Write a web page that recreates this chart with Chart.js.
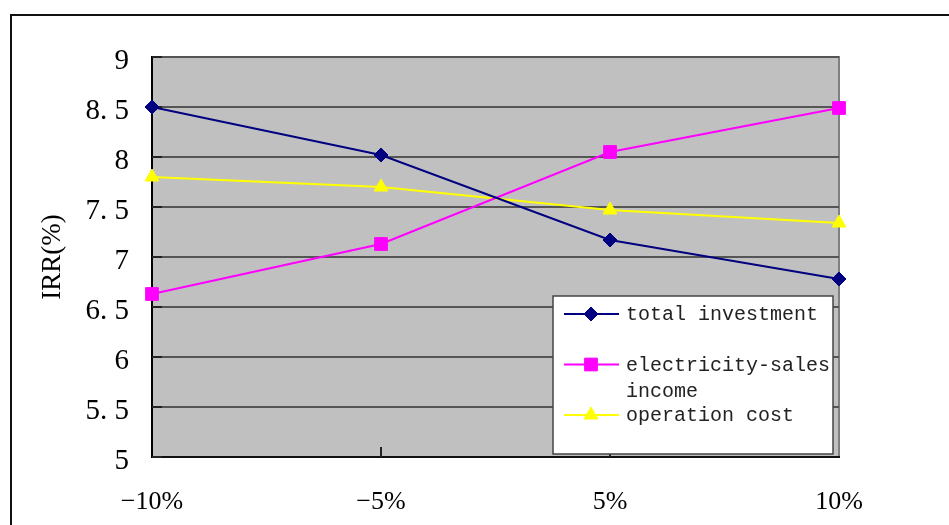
<!DOCTYPE html>
<html>
<head>
<meta charset="utf-8">
<script src="https://cdn.jsdelivr.net/npm/chart.js@4.4.1/dist/chart.umd.min.js"></script>
<style>
  html, body { margin: 0; padding: 0; background: #fff; }
  #wrap { position: relative; width: 949px; height: 525px; }
</style>
</head>
<body>
<div id="wrap"><canvas id="irr-chart" width="949" height="525"></canvas></div>
<script>
const categories = ['−10%', '−5%', '5%', '10%'];
const totalInvestment = [8.5, 8.02, 7.17, 6.78];
const salesIncome = [6.63, 7.13, 8.05, 8.49];
const operationCost = [7.8, 7.7, 7.47, 7.34];
const seriesNames = ['total investment', 'electricity-sales income', 'operation cost'];
const yTickLabels = ['5', '5. 5', '6', '6. 5', '7', '7. 5', '8', '8. 5', '9'];

const serif = '"Liberation Serif", "DejaVu Serif", serif';
const mono = '"Liberation Mono", "DejaVu Sans Mono", monospace';

function series(label, data, color, pointStyle, radius) {
  return {
    label,
    data,
    borderColor: color,
    backgroundColor: color,
    borderWidth: 2,
    tension: 0,
    pointStyle,
    pointRadius: radius,
    pointHoverRadius: radius,
    pointBorderWidth: 1,
  };
}

// plot background, plot border and the outer frame
const backdrop = {
  id: 'backdrop',
  beforeDraw(chart) {
    const { ctx, chartArea: a } = chart;
    ctx.save();
    ctx.fillStyle = '#111';
    ctx.fillRect(10, 14, 949, 2);
    ctx.fillRect(10, 14, 2, 525);
    ctx.fillStyle = '#c0c0c0';
    ctx.fillRect(a.left, a.top, a.right - a.left, a.bottom - a.top);
    ctx.strokeStyle = '#808080';
    ctx.lineWidth = 2;
    ctx.strokeRect(a.left, a.top, a.right - a.left, a.bottom - a.top);
    ctx.restore();
  },
  beforeDatasetsDraw(chart) {
    const { ctx, chartArea: a, scales } = chart;
    ctx.save();
    ctx.strokeStyle = '#222';
    ctx.lineWidth = 2;
    ctx.beginPath();
    scales.y.ticks.forEach((t) => {
      const py = scales.y.getPixelForValue(t.value);
      ctx.moveTo(a.left, py);
      ctx.lineTo(a.left + 10, py);
    });
    for (let i = 1; i < categories.length - 1; i++) {
      const px = scales.x.getPixelForValue(i);
      ctx.moveTo(px, a.bottom);
      ctx.lineTo(px, a.bottom - 10);
    }
    ctx.stroke();
    ctx.restore();
  },
};

function wrapText(ctx, text, maxWidth) {
  const words = text.split(' ');
  const lines = [];
  let line = '';
  words.forEach((w) => {
    const next = line ? line + ' ' + w : w;
    if (line && ctx.measureText(next).width > maxWidth) {
      lines.push(line);
      line = w;
    } else {
      line = next;
    }
  });
  if (line) lines.push(line);
  return lines;
}

// boxed legend sitting in the lower right of the plot
const boxLegend = {
  id: 'boxLegend',
  afterDraw(chart) {
    const ctx = chart.ctx;
    const box = { x: 553, y: 296, w: 280, h: 158 };
    ctx.save();
    ctx.fillStyle = '#fff';
    ctx.fillRect(box.x, box.y, box.w, box.h);
    ctx.strokeStyle = '#444';
    ctx.lineWidth = 1.5;
    ctx.strokeRect(box.x, box.y, box.w, box.h);
    ctx.font = '20px ' + mono;
    ctx.textBaseline = 'middle';
    chart.data.datasets.forEach((ds, i) => {
      const y = 314 + i * 50.5;
      ctx.strokeStyle = ds.borderColor;
      ctx.lineWidth = 2;
      ctx.beginPath();
      ctx.moveTo(564, y);
      ctx.lineTo(619, y);
      ctx.stroke();
      ctx.fillStyle = ds.backgroundColor;
      ctx.strokeStyle = ds.borderColor;
      ctx.lineWidth = 1;
      Chart.helpers.drawPoint(ctx, { pointStyle: ds.pointStyle, radius: ds.pointRadius, rotation: 0, borderWidth: 1 }, 591, y);
      ctx.fillStyle = '#222';
      wrapText(ctx, ds.label, box.x + box.w - 626).forEach((t, j) => {
        ctx.fillText(t, 626, y + 1 + j * 26);
      });
    });
    ctx.restore();
  },
};

new Chart(document.getElementById('irr-chart'), {
  type: 'line',
  data: {
    labels: categories,
    datasets: [
      series(seriesNames[0], totalInvestment, '#000080', 'rectRot', 7),
      series(seriesNames[1], salesIncome, '#ff00ff', 'rect', 9),
      series(seriesNames[2], operationCost, '#ffff00', 'triangle', 8),
    ],
  },
  options: {
    responsive: false,
    animation: false,
    layout: { padding: { left: 37, top: 57, right: 110, bottom: 0 } },
    plugins: {
      legend: { display: false },
      tooltip: { enabled: false },
    },
    scales: {
      x: {
        offset: false,
        afterFit: (s) => { s.height = 68; },
        grid: { drawOnChartArea: false, drawTicks: false },
        border: { color: '#111', width: 2 },
        ticks: { color: '#000', padding: 30, maxRotation: 0, font: { family: serif, size: 26 } },
      },
      y: {
        min: 5,
        max: 9,
        afterFit: (s) => { s.width = 115; },
        grid: { color: '#555', lineWidth: 2, drawTicks: false },
        border: { color: '#000', width: 2 },
        ticks: {
          stepSize: 0.5,
          color: '#000',
          padding: 23,
          labelOffset: 4,
          font: { family: serif, size: 29 },
          callback: (v, i) => yTickLabels[i],
        },
        title: {
          display: true,
          text: 'IRR(%)',
          color: '#000',
          padding: 0,
          font: { family: serif, size: 27 },
        },
      },
    },
  },
  plugins: [backdrop, boxLegend],
});
</script>
</body>
</html>
